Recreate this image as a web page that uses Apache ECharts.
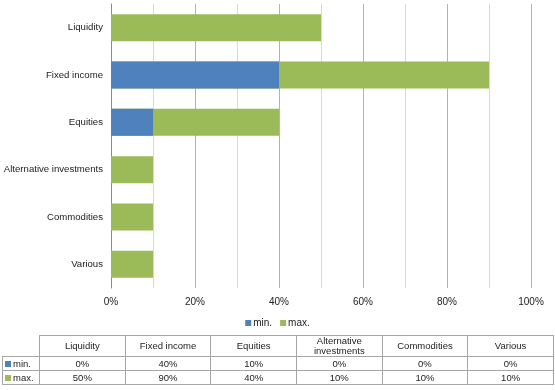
<!DOCTYPE html>
<html>
<head>
<meta charset="utf-8">
<script src="https://cdn.jsdelivr.net/npm/echarts@6/dist/echarts.min.js"></script>
<style>
  html, body { margin: 0; padding: 0; background: #fff; }
  #chart { position: absolute; left: 0; top: 0; width: 555px; height: 390px; }
  #tbl { position: absolute; left: 2px; top: 335px; border-collapse: collapse;
         font-family: "Liberation Sans", Arial, sans-serif; font-size: 9.5px; color: #222; table-layout: fixed; }
  #tbl td { border: 1px solid #a6a6a6; text-align: center; padding: 0; line-height: 10px; }
  #tbl td.corner { border-top: none; border-left: none; }
  #tbl td.rl { text-align: left; padding-left: 2px; }
  .sq { display: inline-block; width: 6px; height: 6px; margin-right: 2px; vertical-align: 0px; }
</style>
</head>
<body>
<div id="chart"></div>
<table id="tbl"></table>
<script>
const categories = ['Liquidity', 'Fixed income', 'Equities', 'Alternative investments', 'Commodities', 'Various'];
const headerLabels = ['Liquidity', 'Fixed income', 'Equities', 'Alternative<br>investments', 'Commodities', 'Various'];
const minValues = [0, 40, 10, 0, 0, 0];
const maxValues = [50, 90, 40, 10, 10, 10];
const seriesNames = ['min.', 'max.'];
const blue = '#4F81BD';
const green = '#9BBB59';

const chart = echarts.init(document.getElementById('chart'));
chart.setOption({
  animation: false,
  textStyle: { fontFamily: '"Liberation Sans", Arial, sans-serif' },
  grid: { left: 111, right: 24, top: 4, height: 284, containLabel: false, outerBoundsMode: 'none' },
  legend: {
    data: seriesNames, top: 313, left: 'center',
    itemWidth: 6, itemHeight: 6, itemGap: 8, icon: 'rect',
    textStyle: { fontSize: 10, color: '#222', padding: [0, 0, 0, -3] }
  },
  xAxis: {
    type: 'value', min: 0, max: 100, interval: 20,
    axisLine: { show: false }, axisTick: { show: false },
    axisLabel: { formatter: '{value}%', fontSize: 10, color: '#222', margin: 9 },
    splitLine: { lineStyle: { color: '#b3b3b3' } },
    minorTick: { show: false, splitNumber: 2 },
    minorSplitLine: { show: true, lineStyle: { color: '#d9d9d9' } }
  },
  yAxis: {
    type: 'category', data: categories, inverse: true,
    axisLine: { show: true, lineStyle: { color: '#8c8c8c' } },
    axisTick: { show: false },
    axisLabel: { fontSize: 9.6, color: '#222', margin: 8 }
  },
  series: [
    { name: seriesNames[1], type: 'bar', data: maxValues, barWidth: 27, itemStyle: { color: green } },
    { name: seriesNames[0], type: 'bar', data: minValues, barWidth: 27, barGap: '-100%', z: 3, itemStyle: { color: blue } }
  ]
});

// data table
const tbl = document.getElementById('tbl');
const colW = (553 - 39) / categories.length;
let html = '<colgroup><col style="width:37px">' + categories.map(() => `<col style="width:${colW}px">`).join('') + '</colgroup>';
html += '<tr style="height:20px"><td class="corner"></td>' + headerLabels.map(h => `<td>${h}</td>`).join('') + '</tr>';
const rows = [[seriesNames[0], blue, minValues], [seriesNames[1], green, maxValues]];
rows.forEach(([name, col, vals]) => {
  html += `<tr style="height:14px"><td class="rl"><span class="sq" style="background:${col}"></span>${name}</td>` +
    vals.map(v => `<td>${v}%</td>`).join('') + '</tr>';
});
tbl.innerHTML = html;
</script>
</body>
</html>
